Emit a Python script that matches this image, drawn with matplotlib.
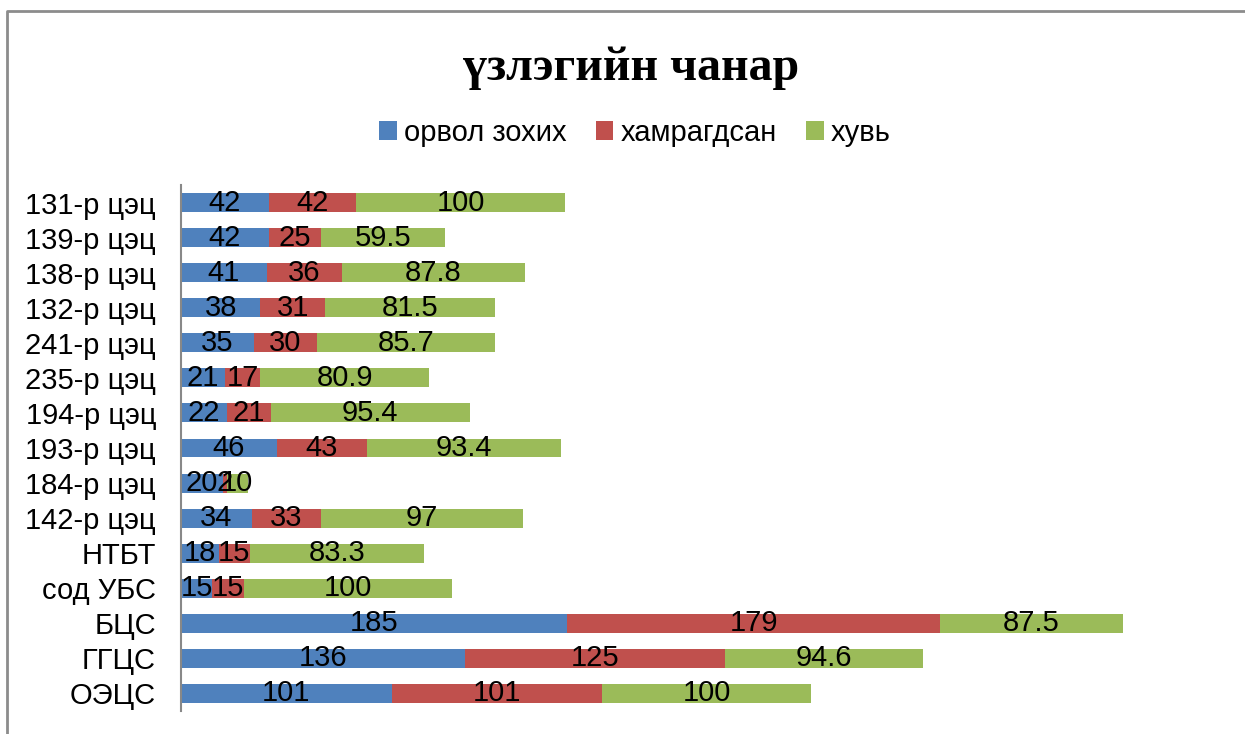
import matplotlib
matplotlib.use("Agg")
import matplotlib.pyplot as plt
from matplotlib.patches import Patch
from matplotlib.lines import Line2D

categories = ["131-р цэц", "139-р цэц", "138-р цэц", "132-р цэц", "241-р цэц",
              "235-р цэц", "194-р цэц", "193-р цэц", "184-р цэц", "142-р цэц",
              "НТБТ", "сод УБС", "БЦС", "ГГЦС", "ОЭЦС"]
orvol = [42, 42, 41, 38, 35, 21, 22, 46, 20, 34, 18, 15, 185, 136, 101]
hamragdsan = [42, 25, 36, 31, 30, 17, 21, 43, 2, 33, 15, 15, 179, 125, 101]
huvi = [100, 59.5, 87.8, 81.5, 85.7, 80.9, 95.4, 93.4, 10, 97, 83.3, 100, 87.5, 94.6, 100]
series_names = ["орвол зохих", "хамрагдсан", "хувь"]
colors = ["#4F81BD", "#C0504D", "#9BBB59"]

plt.rcParams['font.family'] = ['Liberation Sans', 'DejaVu Sans']
FS = 21

W, H = 1245, 734
fig = plt.figure(figsize=(W / 100, H / 100), dpi=100)
ax = fig.add_axes([181 / W, 1 - 711 / H, 1043 / W, 526 / H])

ypos = list(range(len(categories)))
left = [0] * len(categories)
for vals, name, col in zip([orvol, hamragdsan, huvi], series_names, colors):
    cont = ax.barh(ypos, vals, left=left, height=0.54, color=col, label=name)
    ax.bar_label(cont, labels=[f"{v:g}" for v in vals], label_type='center',
                 fontsize=FS, color='black')
    left = [a + b for a, b in zip(left, vals)]

ax.set_xlim(0, 500)
ax.set_ylim(len(categories) - 0.5, -0.5)
ax.set_yticks(ypos)
ax.set_yticklabels(categories, fontsize=FS)
ax.set_xticks([])
ax.tick_params(axis='y', length=0, pad=18)
for s in ['top', 'right', 'bottom']:
    ax.spines[s].set_visible(False)
ax.spines['left'].set_color('#888888')
ax.spines['left'].set_linewidth(1.5)

fig.text(631 / W, 1 - 68 / H, "үзлэгийн чанар", ha='center', va='center',
         fontsize=34.5, fontweight='bold', family=['Liberation Serif', 'DejaVu Serif'])

handles = [Patch(facecolor=c, edgecolor='none') for c in colors]
fig.legend(handles, series_names, loc='center', bbox_to_anchor=(635 / W, 1 - 133 / H),
           ncol=3, frameon=False, fontsize=FS, handlelength=0.6, handleheight=0.6,
           handletextpad=0.25, columnspacing=1.0)

# outer chart frame (partially visible)
fig.add_artist(Line2D([7 / W, 7 / W, 1.0], [0.0, 1 - 11 / H, 1 - 11 / H],
                      transform=fig.transFigure, color='#8c8c8c', lw=2))

fig.savefig("out.png", dpi=100)
